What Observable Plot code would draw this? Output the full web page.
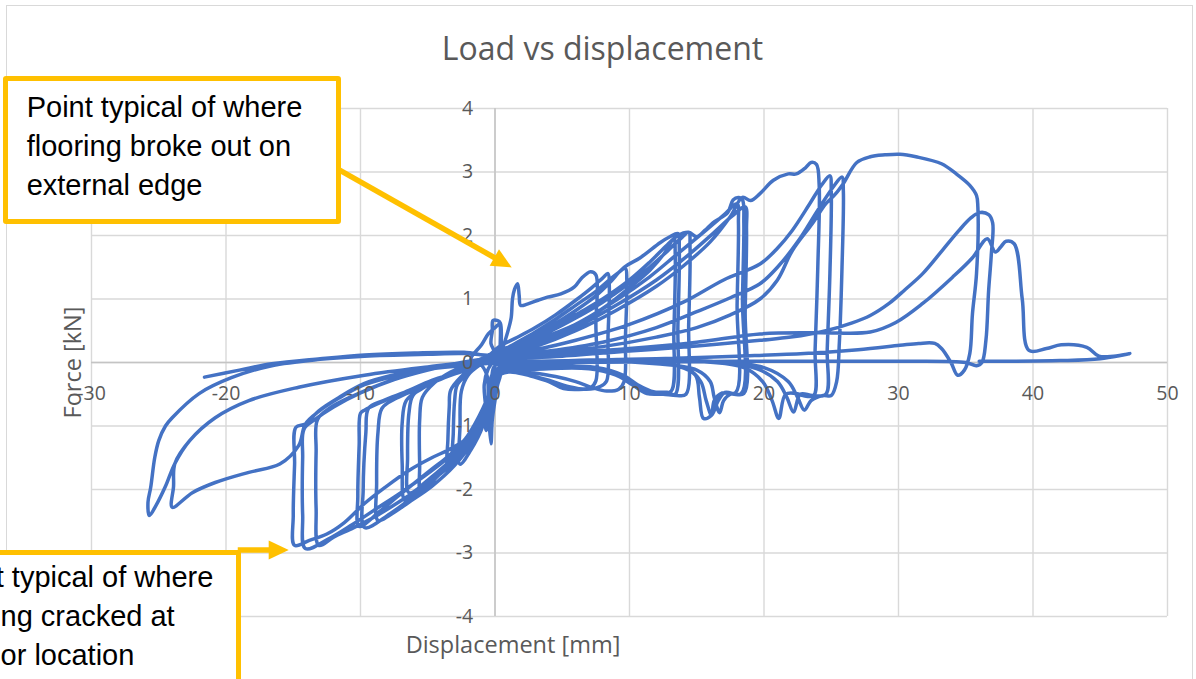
<!DOCTYPE html>
<html><head><meta charset="utf-8">
<script src="https://cdn.jsdelivr.net/npm/d3@7"></script>
<script src="https://cdn.jsdelivr.net/npm/@observablehq/plot@0.6"></script>
<style>
html,body{margin:0;padding:0;background:#fff;overflow:hidden}
#wrap{position:relative;width:1196px;height:679px;overflow:hidden;background:#fff}
#wrap > svg{position:absolute;left:0;top:0}
#frame{position:absolute;left:6px;top:5px;width:1187px;height:700px;border:1px solid #d9d9d9;box-sizing:border-box;pointer-events:none}
.note{position:absolute;background:#fff;border:5px solid #FFC000;border-radius:3px;box-sizing:border-box;font-family:"Liberation Sans",Arial,sans-serif;font-size:29px;line-height:39px;color:#000;white-space:pre}
</style></head>
<body><div id="wrap"></div>
<script>
// ---- texts / ticks ----
const titleText = "Load vs displacement";
const xTitle = "Displacement [mm]";
const yTitle = "Force [kN]";
const xTicks = [-30,-20,-10,0,10,20,30,40,50];
const yTicks = [-4,-3,-2,-1,0,1,2,3,4];
const noteTop = "Point typical of where\nflooring broke out on\nexternal edge";
const noteBottom = "Point typical of where\nflooring cracked at\nanchor location";
// arrows in data units: [x1,y1,x2,y2]
const arrowTop = [-11.58, 3.03, 1.28, 1.49];
const arrowBottom = [-19.09, -2.96, -15.30, -2.96];

// ---- load/displacement trace, in test order ----
const start = [[-21.6,-0.23],[-19,-0.12],[-16.6,-0.02],[-13,0.06],[-9.7,0.12],[-6,0.15],[-2.3,0.16],[0,0.12]];
const pos0 = [[0,0.12],[-0.3,0.3],[-0.2,0.5],[-0.15,0.66],[0.2,0.66],[0.4,0.62],[0.45,0.2],[0.4,-0.2],[0.2,-0.35]];
const neg0 = [[0.2,-0.35],[0,-0.6],[-0.2,-0.9],[-0.3,-1.28],[-0.45,-0.9],[-0.5,-0.5],[-0.6,-0.2],[-1.2,0.0],[-1.8,0.05],[-1.0,0.28],[-0.5,0.45],[0.0,0.55],[0.3,0.6],[0.35,0.1],[0.2,-0.3]];
const neg1 = [[0.2,-0.3],[-0.1,-0.6],[-0.4,-0.9],[-0.66,-1.07],[-0.7,-0.7],[-0.8,-0.35],[-0.5,-0.1],[0,0.05],[0.5,0.2]];
const pos1 = [[0.5,0.2],[0.9,0.45],[1.2,0.7],[1.3,1.0],[1.45,1.15],[1.68,1.24],[1.8,1.05],[1.9,0.9],[2.4,0.92],[3.2,0.98],[3.9,1.03],[4.9,1.08],[5.9,1.19],[6.4,1.32],[7.1,1.43],[7.5,1.38],[7.5,0.6],[7.5,-0.29],[7.1,-0.4],[6.6,-0.42],[5.1,-0.41],[4.0,-0.3],[2.5,-0.2],[1.2,-0.12],[0.2,-0.2]];
const neg2 = [[0.2,-0.2],[-0.3,-0.45],[-0.8,-0.75],[-1.5,-1.1],[-2.3,-1.38],[-3.0,-1.55],[-3.5,-1.64],[-3.5,-1.2],[-3.4,-0.7],[-3.3,-0.44],[-2.5,-0.22],[-1.5,-0.05],[-0.5,0.1],[0.3,0.25]];
const pos2 = [[0.3,0.25],[1.5,0.38],[3,0.55],[4.5,0.75],[6,0.98],[7.2,1.18],[8.0,1.33],[8.4,1.40],[8.5,1.2],[8.4,0.4],[8.3,-0.29],[7.8,-0.38],[6.8,-0.42],[5.5,-0.38],[4,-0.28],[2.5,-0.2],[1,-0.15],[0,-0.25]];
const neg3 = [[0,-0.25],[-0.3,-0.45],[-1,-0.85],[-1.8,-1.2],[-2.5,-1.45],[-3.1,-1.57],[-3.1,-1.1],[-3.0,-0.6],[-2.8,-0.35],[-2.0,-0.18],[-1.0,-0.02],[0.2,0.15]];
const pos3 = [[0.2,0.15],[1.5,0.3],[3,0.48],[4.5,0.68],[6,0.9],[7.5,1.12],[8.5,1.3],[9.2,1.42],[9.7,1.48],[9.8,1.3],[9.7,0.4],[9.6,-0.3],[9.2,-0.42],[8.3,-0.45],[7.3,-0.4],[6,-0.3],[4.5,-0.22],[2.8,-0.16],[1.2,-0.12],[-0.2,-0.25]];
const neg4 = [[-0.2,-0.25],[-0.4,-0.55],[-0.9,-1.0],[-1.8,-1.38],[-2.6,-1.6],[-2.6,-1.0],[-2.5,-0.45],[-2.0,-0.2],[-1.0,-0.02],[0.3,0.15]];
const pos4 = [[0.3,0.15],[2,0.32],[4,0.55],[6,0.82],[7.5,1.05],[8.5,1.25],[9.6,1.5],[10.8,1.65],[12.3,1.89],[13.0,1.98],[13.6,2.03],[13.7,1.8],[13.6,0.6],[13.4,-0.5],[12.8,-0.47],[12.4,-0.47],[11.6,-0.5],[10.8,-0.42],[9.8,-0.28],[8.1,-0.13],[6,-0.07],[3,-0.08],[0.5,-0.15]];
const neg5 = [[0.5,-0.15],[0,-0.35],[-0.6,-0.7],[-1.3,-1.0],[-2.2,-1.3],[-3.3,-1.58],[-4.4,-1.82],[-5.5,-2.05],[-5.6,-1.6],[-5.6,-0.9],[-5.4,-0.55],[-4.5,-0.32],[-3.3,-0.15],[-2,-0.03],[-0.8,0.08],[0.3,0.2]];
const pos5 = [[0.3,0.2],[2,0.3],[4,0.48],[6,0.7],[8,0.95],[10,1.25],[11.5,1.5],[12.8,1.75],[13.8,1.95],[14.4,2.05],[14.5,1.8],[14.4,0.6],[14.2,-0.5],[13.5,-0.52],[12.5,-0.5],[11.3,-0.49],[10.2,-0.35],[9,-0.2],[7,-0.1],[4,-0.1],[0.3,-0.2]];
const neg6 = [[0.3,-0.2],[-0.3,-0.5],[-1.2,-0.9],[-2.3,-1.28],[-3.5,-1.58],[-4.7,-1.8],[-5.8,-2.0],[-6.7,-2.17],[-6.9,-1.6],[-6.9,-0.95],[-6.6,-0.6],[-5.5,-0.42],[-4,-0.25],[-2.5,-0.1],[-1,0.05],[0.3,0.18]];
const pos6 = [[0.3,0.18],[2,0.25],[4,0.4],[6,0.6],[8,0.85],[10,1.18],[11.5,1.45],[12.6,1.72],[13.3,1.95],[13.4,1.7],[13.3,0.5],[13.1,-0.45],[12.4,-0.47],[11.6,-0.45],[10.6,-0.35],[9.5,-0.2],[7.5,-0.08],[4,-0.06],[0,-0.12]];
const neg7 = [[0,-0.12],[-0.5,-0.55],[-1.5,-1.0],[-2.6,-1.38],[-3.8,-1.65],[-5.1,-1.88],[-6.4,-2.05],[-6.5,-1.5],[-6.4,-0.8],[-6.1,-0.52],[-5,-0.35],[-3.5,-0.2],[-2,-0.06],[-0.5,0.08],[0.3,0.15]];
const pos7 = [[0.3,0.15],[2,0.3],[4,0.5],[6,0.75],[8,1.0],[10,1.3],[11.5,1.58],[12.8,1.85],[13.6,2.0],[14.4,2.05],[15.0,1.98],[15.6,2.08],[16.2,2.2],[17.3,2.36],[17.7,2.56],[18.1,2.6],[18.4,2.56],[18.5,2.2],[18.4,1.0],[18.3,-0.49],[17.1,-0.47],[16.6,-0.6],[16.1,-0.83],[15.5,-0.88],[15.2,-0.55],[14.9,-0.2],[13.5,-0.05],[11,0.02],[7,0.04],[3,0.0],[0,-0.05]];
const neg8 = [[0,-0.05],[-0.3,-0.4],[-1.2,-0.85],[-2.3,-1.23],[-3.5,-1.48],[-4.7,-1.68],[-6,-1.9],[-7.3,-2.12],[-8.6,-2.35],[-10.1,-2.58],[-10.2,-2.1],[-10.1,-1.3],[-10.0,-0.8],[-9.7,-0.75],[-8.2,-0.6],[-6.4,-0.44],[-4.7,-0.28],[-2.3,-0.13],[-0.5,0.05],[0.8,0.22]];
const pos8 = [[0.8,0.22],[3,0.35],[6,0.6],[9,0.98],[11.5,1.35],[13.5,1.7],[15.5,2.05],[17,2.32],[18.0,2.5],[18.1,2.2],[18.0,0.9],[17.9,-0.47],[16.9,-0.48],[16.3,-0.6],[16.1,-0.83],[15.7,-0.6],[15.3,-0.3],[14.3,-0.1],[12,0.0],[8,0.03],[4,0.0],[0.3,-0.1]];
const neg9 = [[0.3,-0.1],[-0.5,-0.6],[-1.5,-1.05],[-2.8,-1.45],[-4.3,-1.8],[-6,-2.1],[-7.8,-2.38],[-9.7,-2.6],[-9.8,-2.0],[-9.6,-1.1],[-9.4,-0.72],[-8.3,-0.6],[-6.6,-0.46],[-4.8,-0.3],[-2.6,-0.15],[-0.6,0.0],[0.5,0.12]];
const pos9 = [[0.5,0.12],[3,0.28],[6,0.55],[9,0.9],[12,1.3],[14.3,1.68],[16.3,2.05],[17.6,2.3],[18.6,2.45],[18.7,2.1],[18.6,0.8],[18.5,-0.49],[17.5,-0.5],[17.0,-0.6],[16.7,-0.79],[16.3,-0.55],[16.0,-0.3],[15,-0.12],[12,-0.02],[8,0.02],[4,-0.04],[0.2,-0.15]];
const neg10 = [[0.2,-0.15],[-0.4,-0.7],[-1.5,-1.2],[-3,-1.62],[-4.7,-1.95],[-6.4,-2.2],[-7.8,-2.4],[-8.7,-2.49],[-8.8,-1.9],[-8.7,-1.1],[-8.4,-0.72],[-7.3,-0.56],[-5.8,-0.42],[-4,-0.26],[-2,-0.1],[0.5,0.1]];
const pos10 = [[0.5,0.1],[3,0.25],[6,0.5],[9,0.82],[12,1.2],[14,1.52],[16,1.9],[17.5,2.3],[18.4,2.6],[19.0,2.55],[19.7,2.66],[20.7,2.87],[21.8,2.97],[22.4,2.97],[23.1,3.07],[23.5,3.15],[23.9,3.12],[24.1,2.8],[24.0,1.5],[23.8,0.2],[23.7,-0.52],[22.9,-0.52],[22.5,-0.49],[21.6,-0.5],[21.1,-0.88],[20.6,-0.6],[19.9,-0.3],[18.5,-0.08],[15,0.02],[10,0.05],[5,0.0],[0.5,-0.08]];
const neg11 = [[0.5,-0.08],[0,-0.35],[-0.6,-0.8],[-1.3,-1.05],[-2.3,-1.23],[-3.5,-1.38],[-4.7,-1.5],[-6.4,-1.7],[-8.2,-1.97],[-9.7,-2.22],[-11.2,-2.52],[-12.5,-2.7],[-13.8,-2.8],[-14.9,-2.88],[-15.0,-2.4],[-14.9,-1.6],[-14.8,-1.02],[-14.1,-0.97],[-13.1,-0.76],[-11.6,-0.55],[-9.7,-0.33],[-7.2,-0.18],[-4.7,-0.08],[-2.3,0.0],[0.5,0.1]];
const pos11 = [[0.5,0.1],[3,0.2],[6,0.35],[10,0.6],[14,0.95],[17,1.3],[19.7,1.55],[21,1.8],[22.1,2.08],[23.4,2.5],[24.3,2.8],[24.9,2.94],[25.0,2.7],[24.9,1.4],[24.7,0.2],[24.6,-0.5],[23.6,-0.52],[22.7,-0.5],[22.2,-0.78],[21.7,-0.55],[21,-0.3],[19.5,-0.1],[16,0.02],[10,0.04],[5,0.0],[0.3,-0.1]];
const neg12 = [[0.3,-0.1],[-0.8,-0.75],[-2,-1.15],[-3.5,-1.5],[-5.2,-1.78],[-7,-2.05],[-8.8,-2.3],[-10.6,-2.55],[-12.4,-2.78],[-14.1,-2.93],[-14.3,-2.4],[-14.3,-1.5],[-14.2,-1.05],[-13.4,-0.9],[-12,-0.7],[-10,-0.48],[-7.5,-0.27],[-5,-0.12],[-2.5,0.0],[0.5,0.1]];
const pos12 = [[0.5,0.1],[4,0.18],[8,0.32],[12,0.55],[15,0.8],[17.5,1.02],[19.7,1.24],[21,1.5],[22.5,1.9],[24,2.4],[25.2,2.78],[25.8,2.92],[25.9,2.7],[25.8,1.5],[25.6,0.3],[25.4,-0.3],[25.0,-0.52],[24.4,-0.52],[23.5,-0.6],[23.0,-0.75],[22.5,-0.55],[21.8,-0.3],[20,-0.08],[16,0.02],[10,0.03],[5,0.0],[0.5,-0.06]];
const neg13 = [[0.5,-0.06],[-0.6,-0.85],[-1.8,-1.3],[-3.3,-1.62],[-5,-1.9],[-6.8,-2.15],[-8.7,-2.4],[-10.5,-2.6],[-12,-2.75],[-13.1,-2.88],[-13.3,-2.3],[-13.3,-1.4],[-13.2,-0.9],[-12.3,-0.72],[-10.5,-0.52],[-8,-0.3],[-5.5,-0.14],[-3,-0.03],[0.5,0.08]];
const pos13 = [[0.5,0.08],[4,0.15],[8,0.25],[12,0.4],[15,0.55],[17.5,0.75],[19.7,1.0],[21,1.3],[22.1,1.76],[23.6,2.19],[24.6,2.5],[25.3,2.65],[25.9,2.82],[26.9,3.15],[27.9,3.24],[29,3.27],[30.1,3.28],[31.3,3.24],[33.2,3.13],[34.3,2.97],[35.3,2.79],[35.8,2.63],[35.9,2.45],[35.8,1.4],[35.5,0.77],[35.3,0.14],[34.9,-0.12],[34.4,-0.2],[33.9,0.0],[33.2,0.22],[32.7,0.3],[31.5,0.3],[30.1,0.27],[27,0.2],[23,0.14],[18,0.1],[12,0.06],[6,0.03],[0.5,0.0]];
const neg14 = [[0.5,0.0],[-2,-0.04],[-4.7,-0.1],[-7.2,-0.2],[-9.7,-0.35],[-11.6,-0.56],[-13.1,-0.77],[-14.1,-0.97],[-14.6,-1.31],[-16,-1.6],[-18.3,-1.73],[-20.8,-1.89],[-22.5,-2.05],[-24,-2.28],[-23.9,-1.95],[-23.8,-1.59],[-22.7,-1.23],[-20.8,-0.87],[-18.3,-0.6],[-14.6,-0.39],[-9.7,-0.2],[-5,-0.07],[-2,0.0],[0.5,0.05]];
const pos14 = [[0.5,0.05],[5,0.1],[10,0.18],[15,0.26],[19.7,0.35],[22,0.4],[24.6,0.5],[26.5,0.62],[27.9,0.74],[29.3,0.93],[30.5,1.15],[31.8,1.4],[33.2,1.75],[34.5,2.08],[35.4,2.28],[36,2.36],[36.7,2.33],[37,2.2],[36.9,1.7],[36.7,1.13],[36.5,0.35],[36.2,0.0],[35.8,-0.05],[35,0.0],[30,0.02],[24,0.02],[18,0.02],[12,0.01],[6,0.0],[0.5,0.0]];
const neg15 = [[0.5,0.0],[-2,0.0],[-5,-0.07],[-9.7,-0.2],[-14.6,-0.39],[-18.3,-0.6],[-20.8,-0.87],[-22.7,-1.23],[-23.8,-1.59],[-24.5,-1.95],[-25.2,-2.25],[-25.7,-2.41],[-25.8,-2.2],[-25.6,-1.97],[-25.3,-1.5],[-25,-1.23],[-24.5,-1.0],[-24,-0.87],[-22,-0.49],[-19.6,-0.24],[-16.6,-0.05],[-13,0.05],[-9.7,0.1],[-5,0.13],[-2.3,0.14],[0.5,0.1]];
const pos15 = [[0.5,0.1],[5,0.15],[10,0.22],[15,0.32],[19.7,0.45],[24,0.47],[27.9,0.48],[29.8,0.63],[31.8,0.93],[34,1.34],[35.5,1.65],[36.6,1.95],[37.2,1.74],[37.6,1.82],[38,1.91],[38.6,1.87],[39.2,1.0],[39.7,0.19],[41,0.22],[42.1,0.28],[44,0.24],[44.9,0.1],[46,0.1],[47.2,0.14]];
const finalSeg = [[47.2,0.14],[45,0.06],[42,0.03],[38,0.02],[36,0.02]];

const cycles = [start,pos0,neg0,neg1,pos1,neg2,pos2,neg3,pos3,neg4,pos4,neg5,pos5,neg6,pos6,neg7,pos7,neg8,pos8,neg9,pos9,neg10,pos10,neg11,pos11,neg12,pos12,neg13,pos13,neg14,pos14,neg15,pos15,finalSeg];
const rows = cycles.flatMap((c, i) => (i === 0 ? c : c.slice(1)).map(([x, y]) => ({x, y})));

const grey = "#595959";
const chart = Plot.plot({
  width: 1196, height: 679,
  marginLeft: 91, marginRight: 29, marginTop: 108, marginBottom: 63,
  x: {domain: [-30, 50], axis: null},
  y: {domain: [-4, 4], axis: null},
  style: {fontFamily: "'Open Sans', sans-serif", background: "transparent"},
  marks: [
    Plot.gridX(xTicks, {stroke: "#d9d9d9", strokeOpacity: 1, strokeWidth: 1.4}),
    Plot.gridY(yTicks, {stroke: "#d9d9d9", strokeOpacity: 1, strokeWidth: 1.4}),
    Plot.ruleX([0], {stroke: "#c4c4c4", strokeWidth: 1.5}),
    Plot.ruleY([0], {stroke: "#c4c4c4", strokeWidth: 1.5}),
    Plot.line(rows, {x: "x", y: "y", stroke: "#4472C4", strokeWidth: 3.5, curve: "catmull-rom", strokeLinejoin: "round", strokeLinecap: "round"}),
    Plot.text(xTicks, {x: d => d, y: () => 0, text: d => String(d), dy: 31.5, fill: grey, fontSize: 19.5, textAnchor: "middle", lineAnchor: "middle"}),
    Plot.text(yTicks, {x: () => 0, y: d => d, text: d => String(d), dx: -21.8, fill: grey, fontSize: 19.5, textAnchor: "end", lineAnchor: "middle"}),
    Plot.text([titleText], {text: d => d, frameAnchor: "top", dy: -58.5, dx: -27, fontSize: 32, fill: grey, textAnchor: "middle", lineAnchor: "middle"}),
    Plot.text([xTitle], {text: d => d, frameAnchor: "bottom", dy: 29, dx: -116.5, fontSize: 23.5, fill: grey, textAnchor: "middle", lineAnchor: "middle"}),
    Plot.text([yTitle], {text: d => d, frameAnchor: "left", dx: -18.5, rotate: -90, fontSize: 23.5, fill: grey, textAnchor: "middle", lineAnchor: "middle"})
  ]
});
const wrap = document.getElementById("wrap");
wrap.appendChild(chart);

// arrows placed with the chart's own scales
const sx = chart.scale("x"), sy = chart.scale("y");
const ov = d3.select(wrap).append("svg").attr("width", 1196).attr("height", 679)
  .style("position", "absolute").style("left", 0).style("top", 0);
for (const [x1, y1, x2, y2] of [arrowTop, arrowBottom]) {
  const p1 = [sx.apply(x1), sy.apply(y1)], p2 = [sx.apply(x2), sy.apply(y2)];
  const dx = p2[0] - p1[0], dy = p2[1] - p1[1], len = Math.hypot(dx, dy);
  const ux = dx / len, uy = dy / len, L = 20, W = 9.5;
  const b = [p2[0] - ux * L, p2[1] - uy * L];
  ov.append("line").attr("x1", p1[0]).attr("y1", p1[1]).attr("x2", b[0] + ux * 2).attr("y2", b[1] + uy * 2)
    .attr("stroke", "#FFC000").attr("stroke-width", 5.5);
  ov.append("polygon").attr("fill", "#FFC000")
    .attr("points", [p2, [b[0] - uy * W, b[1] + ux * W], [b[0] + uy * W, b[1] - ux * W]].map(p => p.join(",")).join(" "));
}

const frame = document.createElement("div"); frame.id = "frame"; wrap.appendChild(frame);
function note(text, left, top, width, height, padTop) {
  const d = document.createElement("div");
  d.className = "note"; d.textContent = text;
  Object.assign(d.style, {left: left + "px", top: top + "px", width: width + "px", height: height + "px", paddingTop: padTop + "px", paddingLeft: "18.7px"});
  wrap.appendChild(d);
}
note(noteTop, 3, 76, 338, 148, 6.5);
note(noteBottom, -86, 550, 327, 160, 2.8);
</script></body></html>
